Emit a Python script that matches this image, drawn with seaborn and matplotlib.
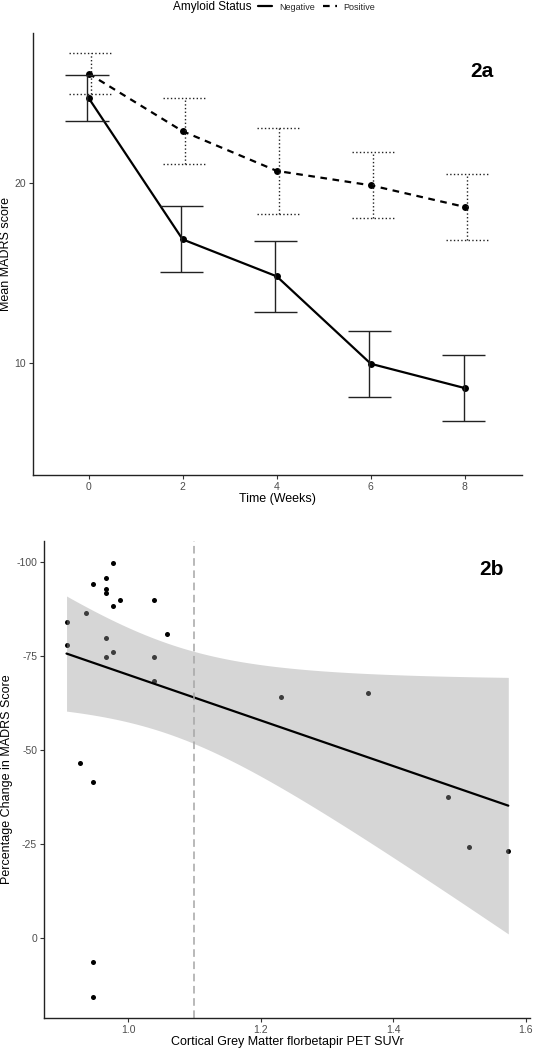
import numpy as np
import pandas as pd
import matplotlib
matplotlib.use("Agg")
import matplotlib.pyplot as plt
import seaborn as sns
from matplotlib.lines import Line2D

# Panel 2a: mean MADRS score by week and amyloid status (mean +/- error)
weeks = [0, 2, 4, 6, 8]
neg_mean = [24.7, 16.85, 14.8, 9.95, 8.6]
neg_err = [1.26, 1.83, 1.95, 1.84, 1.82]
pos_mean = [26.05, 22.85, 20.65, 19.85, 18.65]
pos_err = [1.12, 1.82, 2.38, 1.82, 1.83]

# Panel 2b: cortical SUVr vs percentage change in MADRS
suvr = [0.907, 0.907, 0.937, 0.947, 0.967, 0.967, 0.967, 0.977, 0.987, 0.977,
        1.039, 1.058, 0.967, 0.967, 0.977, 1.039, 1.039, 0.927, 0.947, 0.947,
        0.947, 1.231, 1.362, 1.483, 1.514, 1.574]
pct_change = [-84.1, -78.1, -86.6, -94.1, -95.9, -93.0, -91.9, -99.8, -89.9, -88.4,
              -89.9, -80.8, -79.9, -74.9, -76.1, -74.9, -68.4, -46.7, -41.4, 6.3,
              15.8, -64.2, -65.2, -37.5, -24.3, -23.2]
suvr_cutoff = 1.10

sns.set_theme(style="ticks")
plt.rcParams['font.family'] = ['Liberation Sans', 'DejaVu Sans']
plt.rcParams['axes.unicode_minus'] = False

fig = plt.figure(figsize=(5.36, 10.5), dpi=100)
ax1 = fig.add_axes([0.0616, 0.5476, 0.912, 0.421])
ax2 = fig.add_axes([0.0821, 0.0305, 0.907, 0.454])

# ---- 2a ----
df_a = pd.DataFrame({
    "Week": weeks * 2,
    "MADRS": neg_mean + pos_mean,
    "Amyloid Status": ["Negative"] * len(weeks) + ["Positive"] * len(weeks),
})
sns.lineplot(data=df_a, x="Week", y="MADRS", style="Amyloid Status",
             dashes={"Negative": "", "Positive": (3, 2.5)},
             markers={"Negative": "o", "Positive": "o"},
             color="black", lw=1.6, markersize=5, markeredgewidth=0,
             legend=False, ax=ax1)

cap = 0.46
for means, errs, ls, off in [(neg_mean, neg_err, "-", -0.03),
                             (pos_mean, pos_err, ":", 0.05)]:
    xs = np.array(weeks) + off
    lo = np.array(means) - np.array(errs)
    hi = np.array(means) + np.array(errs)
    ax1.vlines(xs, lo, hi, colors="#222222", linestyles=ls, lw=1.0)
    ax1.hlines(lo, xs - cap, xs + cap, colors="#222222", linestyles=ls, lw=1.0)
    ax1.hlines(hi, xs - cap, xs + cap, colors="#222222", linestyles=ls, lw=1.0)

ax1.set_xlim(-1.18, 9.21)
ax1.set_ylim(3.78, 28.3)
ax1.set_xticks(weeks)
ax1.set_yticks([10, 20])
ax1.set_xlabel("Time (Weeks)", fontsize=9, labelpad=1)
ax1.set_ylabel("Mean MADRS score", fontsize=9, labelpad=2)
ax1.text(0.918, 0.912, "2a", transform=ax1.transAxes, fontsize=15,
         fontweight="bold", color="black", ha="center", va="center")

# legend across the top
fig.text(212 / 536, 1 - 7 / 1050, "Amyloid Status", ha="center", va="center",
         fontsize=8.5, color="black")
handles = [Line2D([], [], color="black", lw=1.6),
           Line2D([], [], color="black", lw=1.6, dashes=(3, 2.5))]
fig.legend(handles, ["Negative", "Positive"], ncol=2, loc="center left",
           bbox_to_anchor=(258 / 536, 1 - 7 / 1050), frameon=False, fontsize=6.5,
           handlelength=1.6, columnspacing=0.9, handletextpad=0.7,
           borderpad=0, borderaxespad=0)

# ---- 2b ----
df_b = pd.DataFrame({"SUVr": suvr, "Change": pct_change})
sns.regplot(data=df_b, x="SUVr", y="Change", ci=None, color="black", ax=ax2,
            scatter_kws=dict(s=13, linewidths=0, alpha=1),
            line_kws=dict(lw=1.6))

# 95% confidence band of the linear fit (as in geom_smooth)
x = df_b["SUVr"].values
y = df_b["Change"].values
n = len(x)
b1, b0 = np.polyfit(x, y, 1)
grid = np.linspace(x.min(), x.max(), 200)
resid = y - (b0 + b1 * x)
s = np.sqrt(np.sum(resid ** 2) / (n - 2))
se = s * np.sqrt(1 / n + (grid - x.mean()) ** 2 / np.sum((x - x.mean()) ** 2))
t_crit = 2.064  # t(0.975, df=24)
fit = b0 + b1 * grid
ax2.fill_between(grid, fit - t_crit * se, fit + t_crit * se,
                 color="#999999", alpha=0.4, lw=0)

ax2.axvline(suvr_cutoff, color="#a6a6a6", ls=(0, (5, 3)), lw=1.1)

ax2.set_xlim(0.873, 1.607)
ax2.set_ylim(21.3, -105.6)
ax2.set_xticks([1.0, 1.2, 1.4, 1.6])
ax2.set_xticklabels(["1.0", "1.2", "1.4", "1.6"])
ax2.set_yticks([-100, -75, -50, -25, 0])
ax2.set_xlabel("Cortical Grey Matter florbetapir PET SUVr", fontsize=9, labelpad=1)
ax2.set_ylabel("Percentage Change in MADRS Score", fontsize=9, labelpad=2)
ax2.text(0.92, 0.941, "2b", transform=ax2.transAxes, fontsize=15,
         fontweight="bold", color="black", ha="center", va="center")

for ax in (ax1, ax2):
    sns.despine(ax=ax)
    for sp in ("left", "bottom"):
        ax.spines[sp].set_color("#222222")
        ax.spines[sp].set_linewidth(1.0)
    ax.tick_params(length=3, width=0.8, color="#333333", labelsize=7.5,
                   labelcolor="#4d4d4d", pad=2)
    ax.xaxis.label.set_color("black")
    ax.yaxis.label.set_color("black")

fig.savefig("out.png", dpi=100)
